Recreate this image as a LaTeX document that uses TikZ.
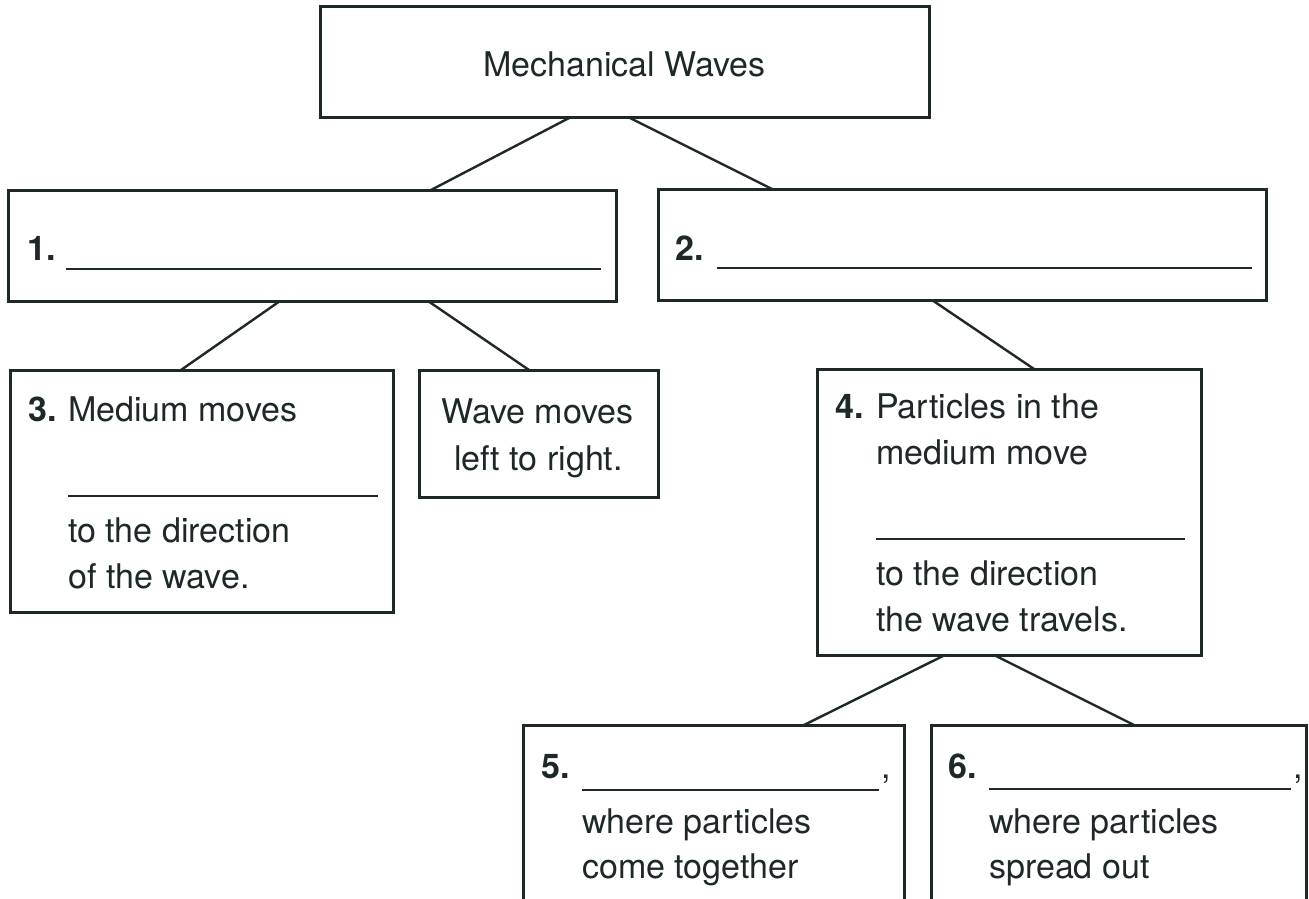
\documentclass[tikz,border=0pt]{standalone}
\usepackage{fontspec}
\setmainfont{TeX Gyre Heros}
\usepackage{tikz}
\definecolor{ink}{HTML}{1E2828}

\begin{document}
\begin{tikzpicture}[x=1pt, y=-1pt,
	box/.style={draw=ink, line width=3pt, rectangle, inner sep=0pt, outer sep=0pt, anchor=north west},
	txt/.style={text=ink, anchor=base west, inner sep=0pt, font=\fontsize{34}{46}\selectfont},
	num/.style={txt, font=\fontsize{34}{46}\selectfont\bfseries},
	link/.style={draw=ink, line width=2.4pt},
	blank/.style={draw=ink, line width=2.2pt}]
	\useasboundingbox (0,0) rectangle (1309,899);
	\clip (0,0) rectangle (1309,899);

	% boxes
	\node[box, minimum width=609pt, minimum height=110pt] (top) at (320,7) {};
	\node[box, minimum width=608pt, minimum height=111pt] (one) at (8,190) {};
	\node[box, minimum width=608pt, minimum height=111pt] (two) at (658,189) {};
	\node[box, minimum width=383pt, minimum height=242pt] (three) at (10,370) {};
	\node[box, minimum width=239pt, minimum height=127pt] (wave) at (419,370) {};
	\node[box, minimum width=384pt, minimum height=286pt] (four) at (817,369) {};
	\node[box, minimum width=381pt, minimum height=200pt] (five) at (523,725) {};
	\node[box, minimum width=375pt, minimum height=200pt] (six) at (931,725) {};

	% connectors
	\draw[link] ([xshift=-53.5pt]top.south) -- ([xshift=119pt]one.north);
	\draw[link] ([xshift=3.5pt]top.south) -- ([xshift=-190pt]two.north);
	\draw[link] ([xshift=-32pt]one.south) -- ([xshift=-20.5pt]three.north);
	\draw[link] ([xshift=116pt]one.south) -- ([xshift=-9.5pt]wave.north);
	\draw[link] ([xshift=-30pt]two.south) -- ([xshift=25pt]four.north);
	\draw[link] ([xshift=-64pt]four.south) -- ([xshift=90.5pt]five.north);
	\draw[link] ([xshift=-15pt]four.south) -- ([xshift=15.5pt]six.north);

	% texts
	\node[txt, anchor=base] (title) at (624.5,77) {Mechanical Waves};

	\node[num] (n1) at (27,260) {1.};
	\draw[blank] (66,269) -- (601,269);

	\node[num] (n2) at (675,260) {2.};
	\draw[blank] (717,268) -- (1252,268);

	\node[num] (n3) at (28,421) {3.};
	\node[txt] (t3a) at (68,421) {Medium moves};
	\draw[blank] (68,496) -- (378,496);
	\node[txt] (t3b) at (68,542) {to the direction};
	\node[txt] (t3c) at (68,588) {of the wave.};

	\node[txt, anchor=base] (tw1) at (537.5,423) {Wave moves};
	\node[txt, anchor=base] (tw2) at (538.5,470) {left to right.};

	\node[num] (n4) at (835,418) {4.};
	\node[txt] (t4a) at (876,418) {Particles in the};
	\node[txt] (t4b) at (876,464) {medium move};
	\draw[blank] (876,539) -- (1185,539);
	\node[txt] (t4c) at (876,585) {to the direction};
	\node[txt] (t4d) at (876,631) {the wave travels.};

	\node[num] (n5) at (541,778) {5.};
	\draw[blank] (582,790) -- (879,790);
	\node[txt] (c5) at (881,778) {,};
	\node[txt] (t5a) at (582,833) {where particles};
	\node[txt] (t5b) at (582,878) {come together};

	\node[num] (n6) at (948,778) {6.};
	\draw[blank] (989,789) -- (1291,789);
	\node[txt] (c6) at (1293,778) {,};
	\node[txt] (t6a) at (989,833) {where particles};
	\node[txt] (t6b) at (989,878) {spread out};
\end{tikzpicture}
\end{document}
